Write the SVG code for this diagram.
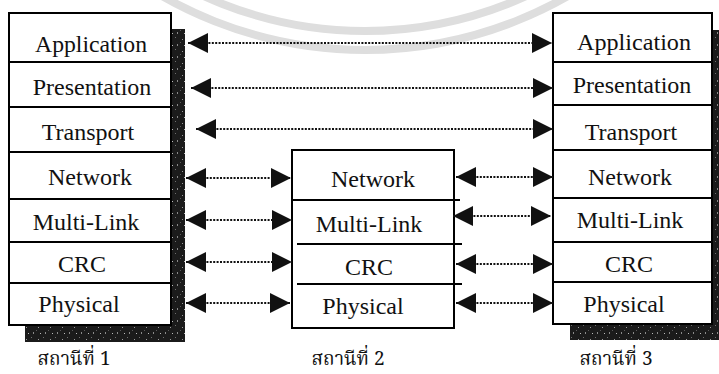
<svg xmlns="http://www.w3.org/2000/svg" width="719" height="374" viewBox="0 0 719 374">
  <defs>
    <style>
      .frame { fill: #ffffff; stroke: #000000; stroke-width: 2; }
      .rule { stroke: #000000; stroke-width: 2; fill: none; }
      .shadow { fill: url(#grain); }
      .layer { font-family: 'Liberation Serif', Tinos, 'Times New Roman', 'Noto Serif', 'DejaVu Serif', serif; font-size: 24px; fill: #111111; text-anchor: middle; }
      .caption { font-family: 'Noto Serif Thai', 'Noto Sans Thai', 'Noto Sans', sans-serif; font-size: 19px; fill: #111111; text-anchor: middle; }
      .link { stroke: #111111; stroke-width: 2; stroke-dasharray: 2 1.4; fill: none; marker-start: url(#head); marker-end: url(#head); }
      .seal { fill: none; stroke: #dedede; stroke-width: 8; }
    </style>
    <!-- speckled dark fill used for the drop shadows -->
    <pattern id="grain" width="12" height="12" patternUnits="userSpaceOnUse">
      <rect width="12" height="12" fill="#1b1b1b"/>
      <rect x="2" y="3" width="1" height="1" fill="#9a9a9a"/>
      <rect x="7" y="1" width="1" height="1" fill="#6e6e6e"/>
      <rect x="9" y="8" width="1" height="2" fill="#8a8a8a"/>
      <rect x="4" y="9" width="1" height="1" fill="#bdbdbd"/>
      <rect x="0" y="6" width="1" height="1" fill="#5a5a5a"/>
    </pattern>
    <marker id="head" viewBox="0 0 20 20" refX="20" refY="10" markerWidth="20" markerHeight="20" markerUnits="userSpaceOnUse" orient="auto-start-reverse">
      <path d="M0,0 L20,10 L0,20 Z" fill="#111111"/>
    </marker>
  </defs>

  <rect width="719" height="374" fill="#ffffff"/>

  <!-- faint seal rings in the background -->
  <g id="seal">
    <circle class="seal" cx="365" cy="-358" r="408"/>
    <circle class="seal" cx="365" cy="-358" r="389"/>
  </g>

  <!-- station 1: full seven-layer stack -->
  <g id="station1">
    <rect class="shadow" x="25" y="29" width="160" height="313"/>
    <rect class="frame" x="9" y="13" width="162" height="312"/>
    <path class="rule" d="M9,62 H171 M9,107 H171 M9,152 H171 M9,199 H171 M9,242 H171 M9,283 H171"/>
    <text class="layer" x="91" y="52" textLength="112" lengthAdjust="spacingAndGlyphs">Application</text>
    <text class="layer" x="92" y="95">Presentation</text>
    <text class="layer" x="88" y="140">Transport</text>
    <text class="layer" x="90" y="185">Network</text>
    <text class="layer" x="86" y="230">Multi-Link</text>
    <text class="layer" x="82" y="272">CRC</text>
    <text class="layer" x="79" y="312">Physical</text>
    <text class="caption" x="74" y="365">สถานีที่ 1</text>
  </g>

  <!-- station 2: relay with the lower four layers -->
  <g id="station2">
    <rect class="frame" x="292" y="150" width="162" height="178"/>
    <path class="rule" d="M292,200 H460 M297,244 H462 M297,284 H462"/>
    <text class="layer" x="373" y="187">Network</text>
    <text class="layer" x="369" y="232">Multi-Link</text>
    <text class="layer" x="369" y="275">CRC</text>
    <text class="layer" x="363" y="314">Physical</text>
    <text class="caption" x="348" y="365">สถานีที่ 2</text>
  </g>

  <!-- station 3: full seven-layer stack -->
  <g id="station3">
    <rect class="shadow" x="570" y="30" width="160" height="310"/>
    <rect class="frame" x="553" y="13" width="159" height="311"/>
    <path class="rule" d="M553,62 H712 M553,105 H712 M553,150 H712 M553,198 H712 M553,242 H712 M553,282 H712"/>
    <text class="layer" x="634" y="50" textLength="114" lengthAdjust="spacingAndGlyphs">Application</text>
    <text class="layer" x="632" y="93">Presentation</text>
    <text class="layer" x="631" y="140">Transport</text>
    <text class="layer" x="630" y="185">Network</text>
    <text class="layer" x="630" y="228">Multi-Link</text>
    <text class="layer" x="629" y="272">CRC</text>
    <text class="layer" x="624" y="312">Physical</text>
    <text class="caption" x="616" y="365">สถานีที่ 3</text>
  </g>

  <!-- peer-to-peer links -->
  <g id="links">
    <path class="link" d="M188,43 H552"/>
    <path class="link" d="M191,88 H553"/>
    <path class="link" d="M196,129 H553"/>
    <path class="link" d="M186,178 H291"/>
    <path class="link" d="M186,220 H292"/>
    <path class="link" d="M186,262 H292"/>
    <path class="link" d="M186,303 H290"/>
    <path class="link" d="M456,177 H553"/>
    <path class="link" d="M453,216 H551"/>
    <path class="link" d="M456,264 H553"/>
    <path class="link" d="M456,303 H553"/>
  </g>
</svg>
